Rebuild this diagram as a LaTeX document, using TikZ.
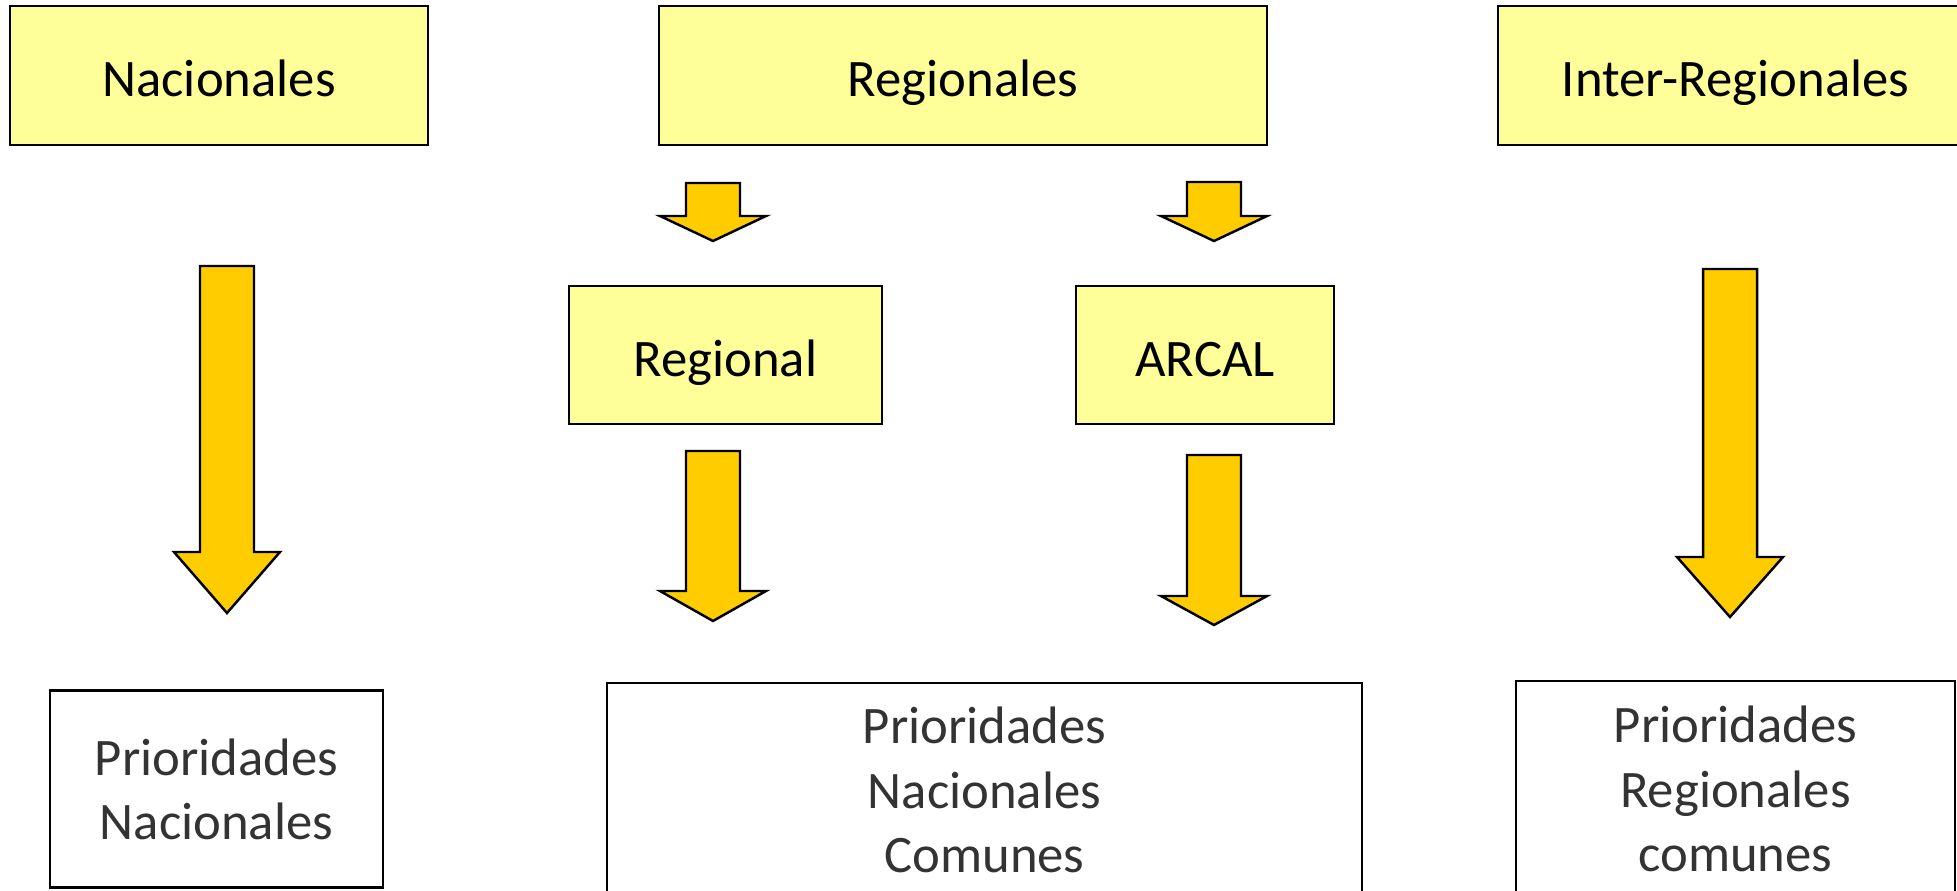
\documentclass[tikz,border=0pt]{standalone}
\usepackage{fontspec}
\setmainfont{Carlito}
\definecolor{paleyellow}{HTML}{FFFF99}
\definecolor{gold}{HTML}{FFCC00}
\definecolor{darktext}{HTML}{333333}
\tikzset{
  topbox/.style={draw, line width=1.4pt, fill=paleyellow, align=center,
    text height=24pt, text depth=0pt, font=\fontsize{30}{36.5}\selectfont},
  prioritybox/.style={draw, line width=1.4pt, fill=white, align=center, text=darktext,
    font=\fontsize{30}{36.5}\selectfont},
  blockarrow/.style={draw, line width=1.4pt, fill=gold, line join=miter}
}
\begin{document}
\begin{tikzpicture}[x=0.02cm,y=-0.02cm]
  \clip (0,0) rectangle (1957,891);
  \useasboundingbox (0,0) rectangle (1957,891);
  \node[topbox, minimum width=8.36cm, minimum height=2.78cm] (nac) at (219,75.5) {Nacionales};
  \node[topbox, minimum width=12.16cm, minimum height=2.78cm] (reg) at (963,75.5) {Regionales};
  \node[topbox, minimum width=9.5cm, minimum height=2.78cm] (inter) at (1735.5,75.5) {Inter-Regionales};
  \node[topbox, minimum width=6.26cm, minimum height=2.76cm] (regional) at (725.5,355) {Regional};
  \node[topbox, minimum width=5.16cm, minimum height=2.76cm] (arcal) at (1205,355) {ARCAL};
  \node[prioritybox, minimum width=6.66cm, minimum height=3.94cm] (pnac) at (216.5,789) {Prioridades\\Nacionales};
  \node[prioritybox, minimum width=15.1cm, minimum height=4.28cm] (pcom) at (984.5,790) {Prioridades\\Nacionales\\Comunes};
  \node[prioritybox, minimum width=8.78cm, minimum height=4.32cm] (preg) at (1735.5,789) {Prioridades\\Regionales\\comunes};
  % block arrows
  \draw[blockarrow] (200,266) -- (254,266) -- (254,552) -- (280,552) -- (227,613) -- (174,552) -- (200,552) -- cycle;
  \draw[blockarrow] (686,183) -- (740,183) -- (740,216) -- (766,216) -- (713,241) -- (660,216) -- (686,216) -- cycle;
  \draw[blockarrow] (1187,182) -- (1241,182) -- (1241,216) -- (1267,216) -- (1214,241) -- (1161,216) -- (1187,216) -- cycle;
  \draw[blockarrow] (686,451) -- (740,451) -- (740,591) -- (766,591) -- (713,621) -- (660,591) -- (686,591) -- cycle;
  \draw[blockarrow] (1187,455) -- (1241,455) -- (1241,596) -- (1267,596) -- (1214,625) -- (1161,596) -- (1187,596) -- cycle;
  \draw[blockarrow] (1703,269) -- (1757,269) -- (1757,557) -- (1783,557) -- (1730,617) -- (1677,557) -- (1703,557) -- cycle;
\end{tikzpicture}
\end{document}
